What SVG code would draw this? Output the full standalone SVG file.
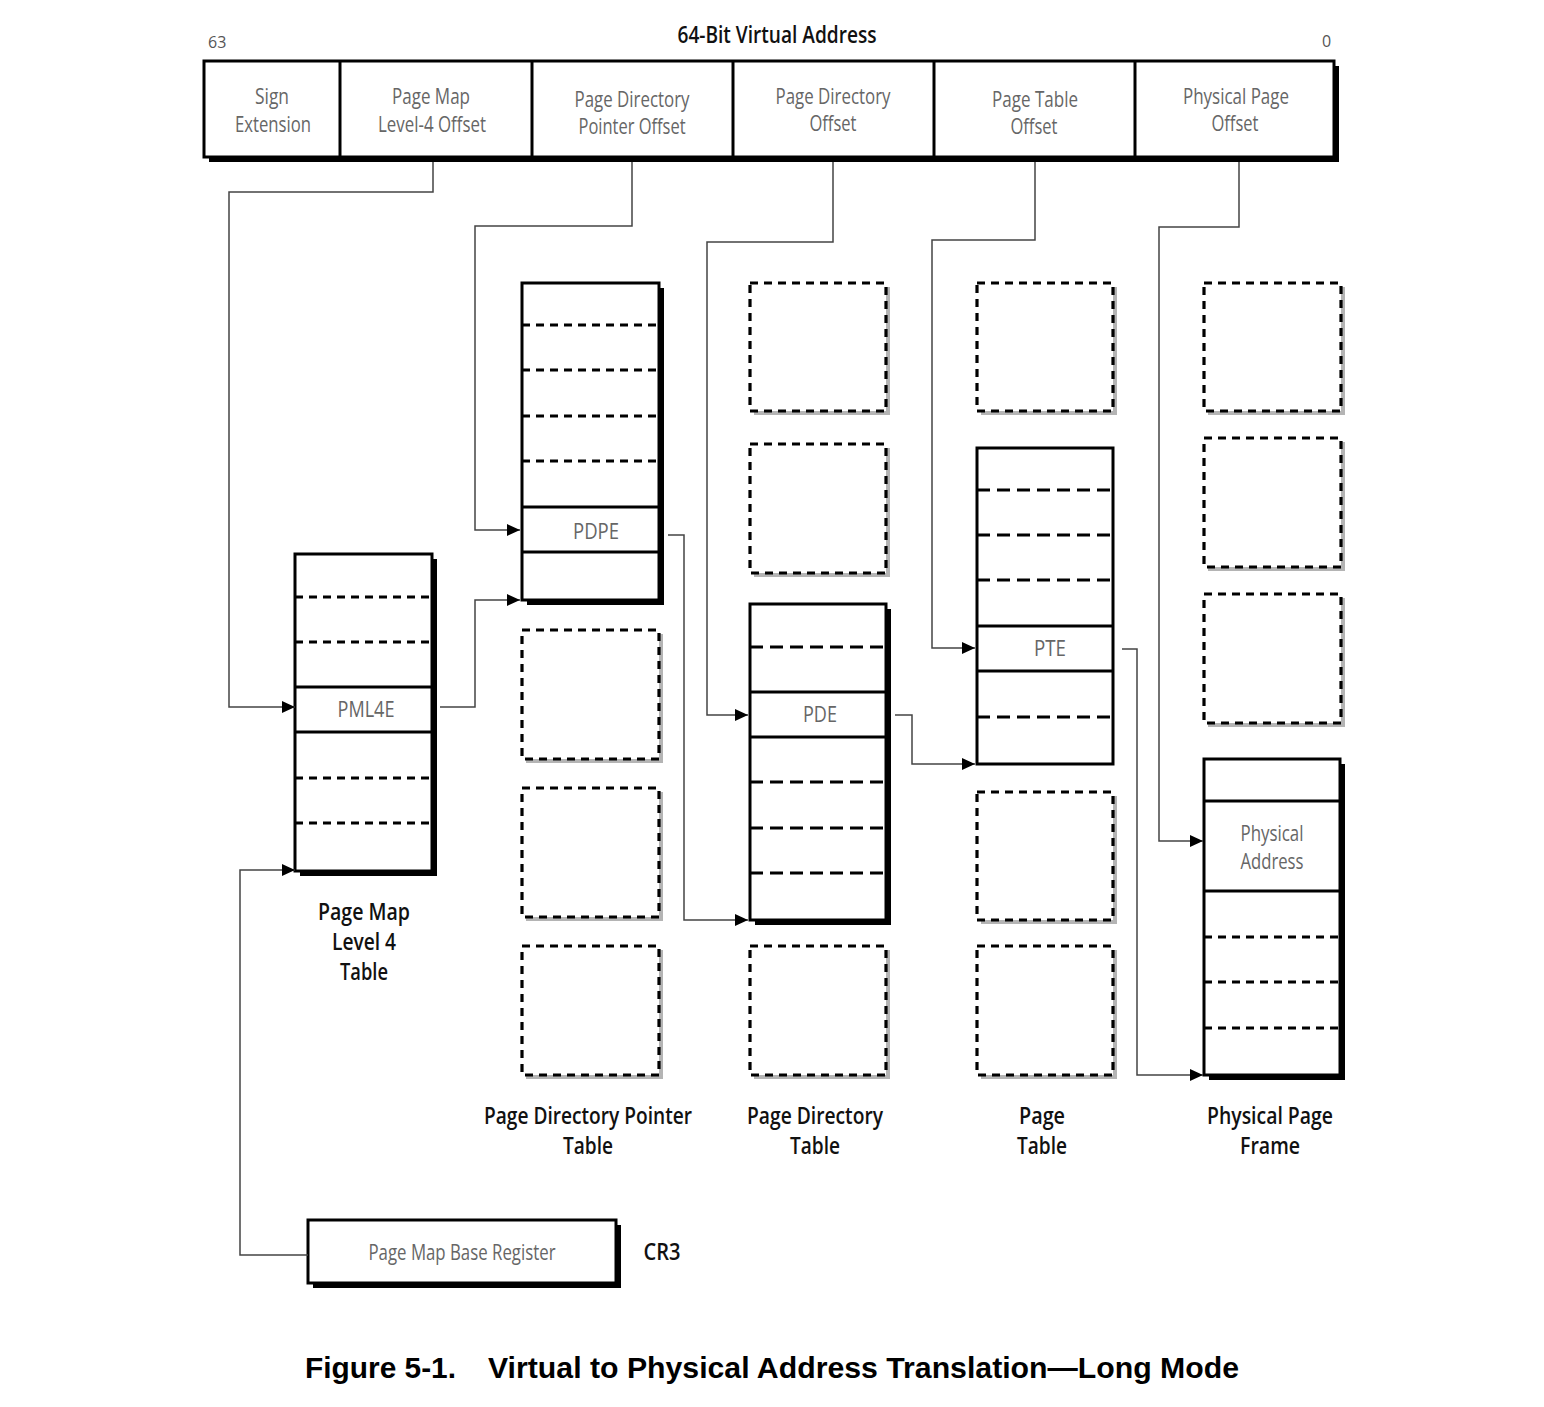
<svg xmlns="http://www.w3.org/2000/svg" width="1544" height="1407" viewBox="0 0 1544 1407">
<defs>
<marker id="arr" markerUnits="userSpaceOnUse" markerWidth="13" markerHeight="12" refX="13" refY="6" orient="auto">
<path d="M0,0 L13,6 L0,12 z" fill="#000"/>
</marker>
<style>
.lbl{font-family:'Open Sans','Noto Sans',sans-serif;font-size:21px;fill:#666;text-anchor:middle}
.cap{font-family:'Open Sans','Noto Sans',sans-serif;font-size:23px;font-weight:600;fill:#111;text-anchor:middle}
.box{fill:#fff;stroke:#000;stroke-width:3}
.shadow{fill:#000}
.gshadow{fill:#b4b4b4}
.dbox{fill:#fff;stroke:#000;stroke-width:3.2;stroke-dasharray:8 6}
.sep{stroke:#000;stroke-width:3}
.dsep{stroke:#000;stroke-width:3.2;stroke-dasharray:8 6}
.lsep{stroke:#000;stroke-width:3.2;stroke-dasharray:13 7}
.con{fill:none;stroke:#444;stroke-width:1.5}
.title{font-family:'Liberation Sans',Arial,sans-serif;font-weight:bold;font-size:29px;fill:#000}
</style>
</defs>
<rect width="1544" height="1407" fill="#fff"/>

<g id="address">
<text x="208" y="48" style="font-family:'Open Sans',sans-serif;font-size:16px;fill:#555">63</text>
<text x="777" y="43" class="cap" textLength="199" lengthAdjust="spacingAndGlyphs">64-Bit Virtual Address</text>
<text x="1322" y="47" style="font-family:'Open Sans',sans-serif;font-size:16px;fill:#555">0</text>
<rect x="209" y="66" width="1130" height="96" class="shadow"/>
<rect x="204" y="61" width="1130" height="96" class="box"/>
<line x1="340" y1="61" x2="340" y2="157" class="sep"/>
<line x1="532" y1="61" x2="532" y2="157" class="sep"/>
<line x1="733" y1="61" x2="733" y2="157" class="sep"/>
<line x1="934" y1="61" x2="934" y2="157" class="sep"/>
<line x1="1135" y1="61" x2="1135" y2="157" class="sep"/>
<text x="272" y="104" class="lbl" textLength="34" lengthAdjust="spacingAndGlyphs">Sign</text>
<text x="273" y="132" class="lbl" textLength="76" lengthAdjust="spacingAndGlyphs">Extension</text>
<text x="431" y="104" class="lbl" textLength="78" lengthAdjust="spacingAndGlyphs">Page Map</text>
<text x="432" y="132" class="lbl" textLength="108" lengthAdjust="spacingAndGlyphs">Level-4 Offset</text>
<text x="632" y="107" class="lbl" textLength="115" lengthAdjust="spacingAndGlyphs">Page Directory</text>
<text x="632" y="134" class="lbl" textLength="107" lengthAdjust="spacingAndGlyphs">Pointer Offset</text>
<text x="833" y="104" class="lbl" textLength="115" lengthAdjust="spacingAndGlyphs">Page Directory</text>
<text x="833" y="131" class="lbl" textLength="47" lengthAdjust="spacingAndGlyphs">Offset</text>
<text x="1035" y="107" class="lbl" textLength="86" lengthAdjust="spacingAndGlyphs">Page Table</text>
<text x="1034" y="134" class="lbl" textLength="47" lengthAdjust="spacingAndGlyphs">Offset</text>
<text x="1236" y="104" class="lbl" textLength="106" lengthAdjust="spacingAndGlyphs">Physical Page</text>
<text x="1235" y="131" class="lbl" textLength="47" lengthAdjust="spacingAndGlyphs">Offset</text>
</g>

<g id="pml4">
<rect x="300" y="559" width="137" height="317" class="shadow"/>
<rect x="295" y="554" width="137" height="317" class="box"/>
<line x1="295" y1="597" x2="432" y2="597" class="dsep"/>
<line x1="295" y1="642" x2="432" y2="642" class="dsep"/>
<line x1="295" y1="687" x2="432" y2="687" class="sep"/>
<line x1="295" y1="732" x2="432" y2="732" class="sep"/>
<line x1="295" y1="778" x2="432" y2="778" class="dsep"/>
<line x1="295" y1="823" x2="432" y2="823" class="dsep"/>
<text x="366" y="717" class="lbl" textLength="57" lengthAdjust="spacingAndGlyphs">PML4E</text>
<text x="364" y="920" class="cap" textLength="92" lengthAdjust="spacingAndGlyphs">Page Map</text>
<text x="364" y="950" class="cap" textLength="64" lengthAdjust="spacingAndGlyphs">Level 4</text>
<text x="364" y="980" class="cap" textLength="48" lengthAdjust="spacingAndGlyphs">Table</text>
</g>

<g id="pdpt">
<rect x="527" y="288" width="137" height="317" class="shadow"/>
<rect x="522" y="283" width="137" height="317" class="box"/>
<line x1="522" y1="325" x2="659" y2="325" class="dsep"/>
<line x1="522" y1="370" x2="659" y2="370" class="dsep"/>
<line x1="522" y1="416" x2="659" y2="416" class="dsep"/>
<line x1="522" y1="461" x2="659" y2="461" class="dsep"/>
<line x1="522" y1="507" x2="659" y2="507" class="sep"/>
<line x1="522" y1="552" x2="659" y2="552" class="sep"/>
<text x="596" y="539" class="lbl" textLength="46" lengthAdjust="spacingAndGlyphs">PDPE</text>
<rect x="526" y="634" width="137" height="129" class="gshadow"/>
<rect x="522" y="630" width="137" height="129" class="dbox"/>
<rect x="526" y="792" width="137" height="129" class="gshadow"/>
<rect x="522" y="788" width="137" height="129" class="dbox"/>
<rect x="526" y="950" width="137" height="129" class="gshadow"/>
<rect x="522" y="946" width="137" height="129" class="dbox"/>
<text x="588" y="1124" class="cap" textLength="208" lengthAdjust="spacingAndGlyphs">Page Directory Pointer</text>
<text x="588" y="1154" class="cap" textLength="50" lengthAdjust="spacingAndGlyphs">Table</text>
</g>

<g id="pd">
<rect x="754" y="287" width="136" height="128" class="gshadow"/>
<rect x="750" y="283" width="136" height="128" class="dbox"/>
<rect x="754" y="448" width="136" height="129" class="gshadow"/>
<rect x="750" y="444" width="136" height="129" class="dbox"/>
<rect x="755" y="609" width="136" height="316" class="shadow"/>
<rect x="750" y="604" width="136" height="316" class="box"/>
<line x1="750" y1="647" x2="886" y2="647" class="lsep"/>
<line x1="750" y1="692" x2="886" y2="692" class="sep"/>
<line x1="750" y1="737" x2="886" y2="737" class="sep"/>
<line x1="750" y1="782" x2="886" y2="782" class="lsep"/>
<line x1="750" y1="828" x2="886" y2="828" class="lsep"/>
<line x1="750" y1="873" x2="886" y2="873" class="lsep"/>
<text x="820" y="722" class="lbl" textLength="34" lengthAdjust="spacingAndGlyphs">PDE</text>
<rect x="754" y="950" width="136" height="129" class="gshadow"/>
<rect x="750" y="946" width="136" height="129" class="dbox"/>
<text x="815" y="1124" class="cap" textLength="136" lengthAdjust="spacingAndGlyphs">Page Directory</text>
<text x="815" y="1154" class="cap" textLength="50" lengthAdjust="spacingAndGlyphs">Table</text>
</g>

<g id="pt">
<rect x="981" y="287" width="136" height="128" class="gshadow"/>
<rect x="977" y="283" width="136" height="128" class="dbox"/>
<rect x="977" y="448" width="136" height="316" class="box"/>
<line x1="977" y1="490" x2="1113" y2="490" class="lsep"/>
<line x1="977" y1="535" x2="1113" y2="535" class="lsep"/>
<line x1="977" y1="580" x2="1113" y2="580" class="lsep"/>
<line x1="977" y1="626" x2="1113" y2="626" class="sep"/>
<line x1="977" y1="671" x2="1113" y2="671" class="sep"/>
<line x1="977" y1="717" x2="1113" y2="717" class="lsep"/>
<text x="1050" y="656" class="lbl" textLength="32" lengthAdjust="spacingAndGlyphs">PTE</text>
<rect x="981" y="796" width="136" height="128" class="gshadow"/>
<rect x="977" y="792" width="136" height="128" class="dbox"/>
<rect x="981" y="950" width="136" height="129" class="gshadow"/>
<rect x="977" y="946" width="136" height="129" class="dbox"/>
<text x="1042" y="1124" class="cap" textLength="46" lengthAdjust="spacingAndGlyphs">Page</text>
<text x="1042" y="1154" class="cap" textLength="50" lengthAdjust="spacingAndGlyphs">Table</text>
</g>

<g id="ppf">
<rect x="1208" y="287" width="137" height="128" class="gshadow"/>
<rect x="1204" y="283" width="137" height="128" class="dbox"/>
<rect x="1208" y="442" width="137" height="129" class="gshadow"/>
<rect x="1204" y="438" width="137" height="129" class="dbox"/>
<rect x="1208" y="598" width="137" height="129" class="gshadow"/>
<rect x="1204" y="594" width="137" height="129" class="dbox"/>
<rect x="1209" y="764" width="136" height="316" class="shadow"/>
<rect x="1204" y="759" width="136" height="316" class="box"/>
<line x1="1204" y1="801" x2="1340" y2="801" class="sep"/>
<line x1="1204" y1="891" x2="1340" y2="891" class="sep"/>
<line x1="1204" y1="937" x2="1340" y2="937" class="dsep"/>
<line x1="1204" y1="982" x2="1340" y2="982" class="dsep"/>
<line x1="1204" y1="1028" x2="1340" y2="1028" class="dsep"/>
<text x="1272" y="841" class="lbl" textLength="63" lengthAdjust="spacingAndGlyphs">Physical</text>
<text x="1272" y="869" class="lbl" textLength="63" lengthAdjust="spacingAndGlyphs">Address</text>
<text x="1270" y="1124" class="cap" textLength="126" lengthAdjust="spacingAndGlyphs">Physical Page</text>
<text x="1270" y="1154" class="cap" textLength="60" lengthAdjust="spacingAndGlyphs">Frame</text>
</g>

<g id="cr3">
<rect x="313" y="1225" width="308" height="63" class="shadow"/>
<rect x="308" y="1220" width="308" height="63" class="box"/>
<text x="462" y="1260" class="lbl" textLength="187" lengthAdjust="spacingAndGlyphs">Page Map Base Register</text>
<text x="662" y="1260" class="cap" textLength="37" lengthAdjust="spacingAndGlyphs">CR3</text>
</g>

<g id="connectors">
<polyline points="433,162 433,192 229,192 229,707 295,707" class="con" marker-end="url(#arr)"/>
<polyline points="632,162 632,226 475,226 475,530 520,530" class="con" marker-end="url(#arr)"/>
<polyline points="833,162 833,242 707,242 707,715 748,715" class="con" marker-end="url(#arr)"/>
<polyline points="1035,162 1035,240 932,240 932,648 975,648" class="con" marker-end="url(#arr)"/>
<polyline points="1239,162 1239,227 1159,227 1159,841 1203,841" class="con" marker-end="url(#arr)"/>
<polyline points="440,707 475,707 475,600 520,600" class="con" marker-end="url(#arr)"/>
<polyline points="668,535 684,535 684,920 748,920" class="con" marker-end="url(#arr)"/>
<polyline points="895,715 912,715 912,764 975,764" class="con" marker-end="url(#arr)"/>
<polyline points="1122,649 1137,649 1137,1075 1203,1075" class="con" marker-end="url(#arr)"/>
<polyline points="308,1255 240,1255 240,870 295,870" class="con" marker-end="url(#arr)"/>
</g>

<g id="caption">
<text x="305" y="1378" class="title" textLength="151" lengthAdjust="spacingAndGlyphs">Figure 5-1.</text>
<text x="488" y="1378" class="title" textLength="751" lengthAdjust="spacingAndGlyphs">Virtual to Physical Address Translation—Long Mode</text>
</g>
</svg>
